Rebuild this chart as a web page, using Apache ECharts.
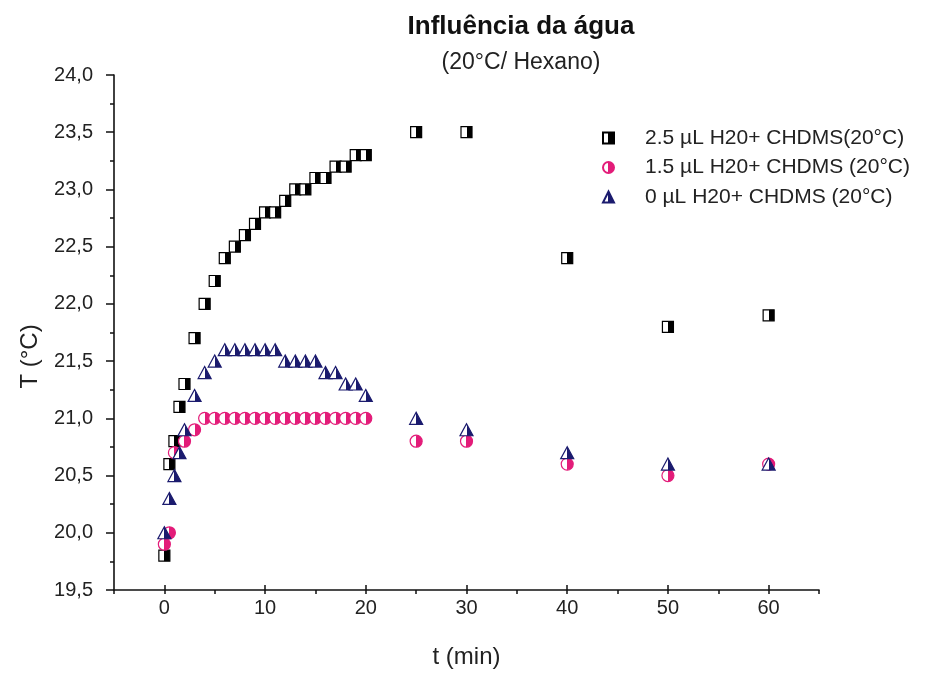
<!DOCTYPE html>
<html><head><meta charset="utf-8">
<script src="https://cdn.jsdelivr.net/npm/echarts@6/dist/echarts.min.js"></script>
<style>html,body{margin:0;padding:0;background:#fff}#c{width:933px;height:674px}</style>
</head><body><div id="c"></div>
<script>
// ---- data ----
const seriesNames = ['2.5 µL H20+ CHDMS(20°C)', '1.5 µL H20+ CHDMS (20°C)', '0 µL H20+ CHDMS (20°C)'];
const time25 = [0,0.5,1,1.5,2,3,4,5,6,7,8,9,10,11,12,13,14,15,16,17,18,19,20,25,30,40,50,60];
const temp25 = [19.8,20.6,20.8,21.1,21.3,21.7,22.0,22.2,22.4,22.5,22.6,22.7,22.8,22.8,22.9,23.0,23.0,23.1,23.1,23.2,23.2,23.3,23.3,23.5,23.5,22.4,21.8,21.9];
const time15 = [0,0.5,1,2,3,4,5,6,7,8,9,10,11,12,13,14,15,16,17,18,19,20,25,30,40,50,60];
const temp15 = [19.9,20.0,20.7,20.8,20.9,21.0,21.0,21.0,21.0,21.0,21.0,21.0,21.0,21.0,21.0,21.0,21.0,21.0,21.0,21.0,21.0,21.0,20.8,20.8,20.6,20.5,20.6];
const time0 = [0,0.5,1,1.5,2,3,4,5,6,7,8,9,10,11,12,13,14,15,16,17,18,19,20,25,30,40,50,60];
const temp0 = [20.0,20.3,20.5,20.7,20.9,21.2,21.4,21.5,21.6,21.6,21.6,21.6,21.6,21.6,21.5,21.5,21.5,21.5,21.4,21.4,21.3,21.3,21.2,21.0,20.9,20.7,20.6,20.6];
const xTickLabels = [0,10,20,30,40,50,60];
const yTickLabels = ['19,5','20,0','20,5','21,0','21,5','22,0','22,5','23,0','23,5','24,0'];

// ---- chart ----
const FONT = '"Liberation Sans", Arial, Helvetica, sans-serif';
function halfFill(c) {
  return {type:'linear', x:0, y:0, x2:1, y2:0, colorStops:[
    {offset:0, color:'#fff'},{offset:0.5, color:'#fff'},
    {offset:0.5, color:c},{offset:1, color:c}]};
}
function pairs(xs, ys){ return xs.map((x,i)=>[x, ys[i]]); }
const colors = ['#000000', '#e31c79', '#1b1b6e'];
const symbols = ['rect', 'circle', 'triangle'];
const sizes = [[11,11],[12,12],[13,12]];
const dataSets = [pairs(time25,temp25), pairs(time15,temp15), pairs(time0,temp0)];

const chart = echarts.init(document.getElementById('c'), null, {renderer:'canvas'});
const yLabelMap = {};
yTickLabels.forEach(s => { yLabelMap[parseFloat(s.replace(',', '.')).toFixed(1)] = s; });

chart.setOption({
  animation:false,
  backgroundColor:'#fff',
  textStyle:{fontFamily:FONT},
  title:{
    text:'Influência da água', subtext:'(20°C/ Hexano)',
    left:516, top:9, textAlign:'center', itemGap:11,
    textStyle:{fontFamily:FONT, fontSize:26, fontWeight:'bold', color:'#111'},
    subtextStyle:{fontFamily:FONT, fontSize:23, color:'#222'}
  },
  legend:{
    orient:'vertical', left:602, top:127, itemWidth:11, itemHeight:11, itemGap:7.5,
    padding:0,
    textStyle:{fontFamily:FONT, fontSize:21, color:'#222', lineHeight:22, padding:[0,0,0,26]},
    data:seriesNames
  },
  grid:[
    {left:114, right:114, top:75, bottom:84, containLabel:false},
    {left:164.4, right:164.4, top:75, bottom:84, containLabel:false}
  ],
  xAxis:[
    {gridIndex:0, type:'value', min:-5, max:65, interval:5,
     axisLine:{show:true, onZero:false, lineStyle:{color:'#111', width:1.6}},
     axisTick:{show:true, length:4, lineStyle:{color:'#111', width:1.5}},
     axisLabel:{show:false}, splitLine:{show:false}},
    {gridIndex:1, type:'value', min:xTickLabels[0], max:xTickLabels[xTickLabels.length-1], interval:10,
     axisLine:{show:false, onZero:false},
     axisTick:{show:true, length:8, lineStyle:{color:'#111', width:1.5}},
     axisLabel:{show:true, margin:13, fontSize:20, color:'#222', fontFamily:FONT},
     splitLine:{show:false},
     name:'t (min)', nameLocation:'middle', nameGap:60,
     nameTextStyle:{fontSize:24, color:'#222', fontFamily:FONT}}
  ],
  yAxis:[
    {gridIndex:0, type:'value', min:19.5, max:24, interval:0.5,
     axisLine:{show:true, onZero:false, lineStyle:{color:'#111', width:1.6}},
     axisTick:{show:true, length:8, lineStyle:{color:'#111', width:1.5}},
     minorTick:{show:true, splitNumber:2, length:4, lineStyle:{color:'#111', width:1.5}},
     axisLabel:{show:true, margin:21, fontSize:20, color:'#222', fontFamily:FONT,
       formatter:v => yLabelMap[v.toFixed(1)] || ''},
     splitLine:{show:false}, minorSplitLine:{show:false},
     name:'T (°C)', nameLocation:'middle', nameGap:72,
     nameTextStyle:{fontSize:24, color:'#222', fontFamily:FONT, padding:[0,48,0,0]}},
    {gridIndex:1, type:'value', min:19.5, max:24, show:false}
  ],
  series: seriesNames.map((name, i) => ({
    name, type:'scatter', xAxisIndex:0, yAxisIndex:0,
    symbol:symbols[i], symbolSize:sizes[i],
    itemStyle:{color:halfFill(colors[i]), borderColor:colors[i], borderWidth:1.2, opacity:1},
    emphasis:{disabled:true},
    data:dataSets[i]
  }))
});
</script>
</body></html>
